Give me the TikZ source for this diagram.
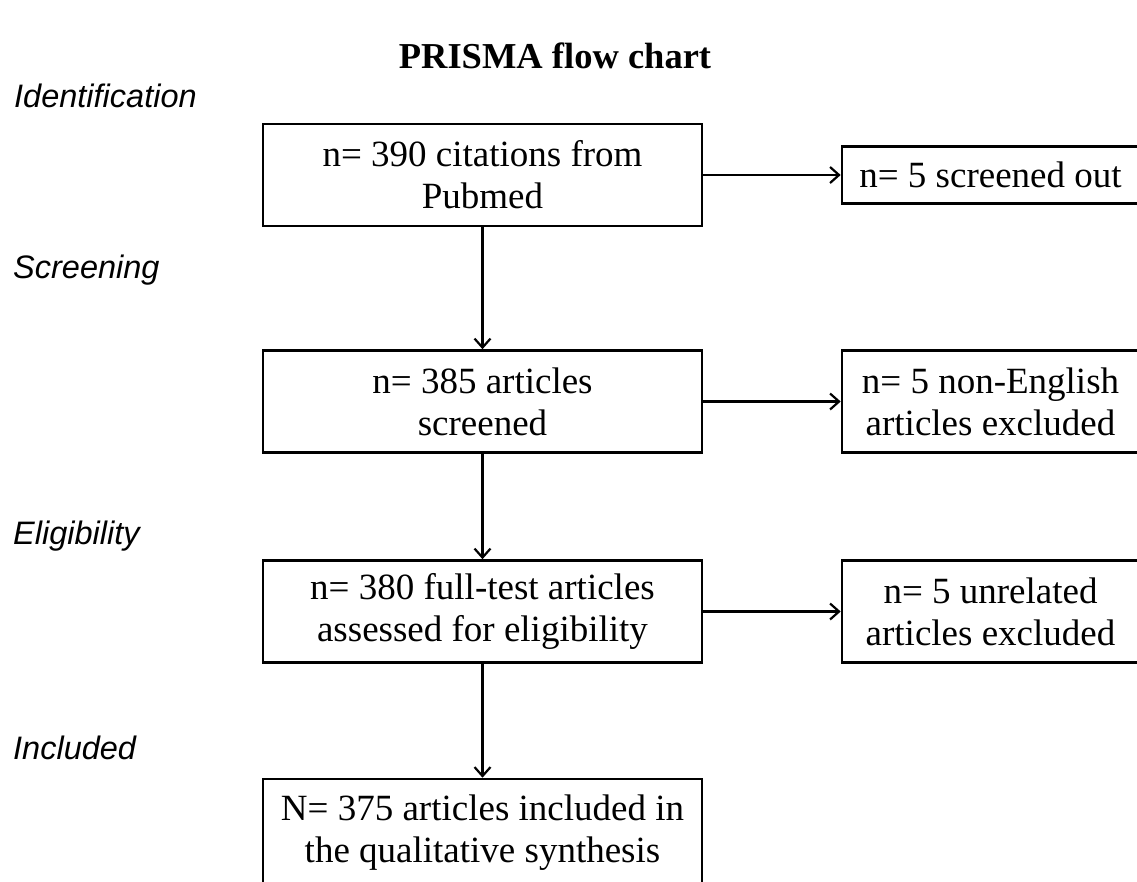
\documentclass[tikz,border=0pt]{standalone}
\usepackage{fontspec}
\setmainfont{Liberation Serif}
\newfontfamily\stagefont{Liberation Sans}
\usetikzlibrary{positioning, arrows.meta}

\begin{document}
\begin{tikzpicture}[x=1pt,y=-1pt,on grid,
    >={Straight Barb[length=9pt,width=16pt]},
    every node/.style={inner sep=0pt},
    box/.style={draw,line width=2.6pt,minimum width=439pt,minimum height=102pt,
                align=center,font=\fontsize{37}{42}\selectfont},
    side/.style={box,minimum width=297pt},
    stage/.style={anchor=base west,font=\stagefont\itshape\fontsize{32.5}{38}\selectfont},
    flow/.style={->,line width=2.2pt}]
    \path[use as bounding box,clip] (0,0) rectangle (1137,881);

    \node[font=\bfseries\fontsize{36.5}{40}\selectfont] (title) at (555,56) {PRISMA flow chart};

    % stages on the left
    \node[stage] (ident) at (14,107) {Identification};
    \node[stage] (scr)   at (13,278) {Screening};
    \node[stage] (elig)  at (13,544) {Eligibility};
    \node[stage] (incl)  at (13,759) {Included};

    % main column
    \node[box]                       (box1) at (482.5,175) {n= 390 citations from\\Pubmed};
    \node[box] [below=226.5pt of box1] (box2) {n= 385 articles\\screened};
    \node[box] [below=210pt of box2]   (box3) {n= 380 full-test articles\\assessed for eligibility};
    \node[box,minimum height=108pt] [below=221.5pt of box3] (box4) {N= 375 articles included in\\the qualitative synthesis};

    % excluded records
    \node[side,minimum height=57pt] [right=508pt of box1] (r1) {n= 5 screened out};
    \node[side] [right=508pt of box2] (r2) {n= 5 non-English\\articles excluded};
    \node[side] [right=508pt of box3] (r3) {n= 5 unrelated\\articles excluded};

    \draw[flow] (box1) -- (box2);
    \draw[flow] (box2) -- (box3);
    \draw[flow] (box3) -- (box4);
    \draw[flow] (box1) -- (r1);
    \draw[flow] (box2) -- (r2);
    \draw[flow] (box3) -- (r3);
\end{tikzpicture}
\end{document}
